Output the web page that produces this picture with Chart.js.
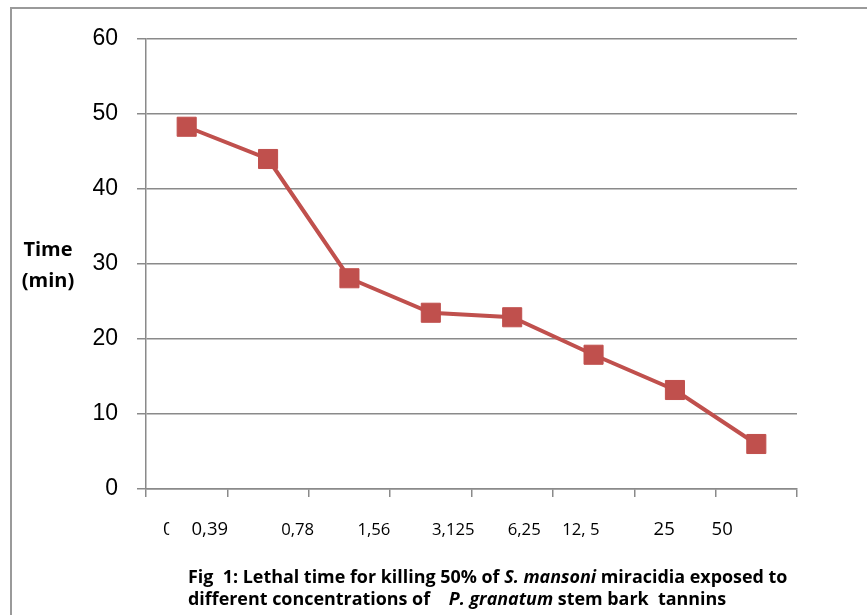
<!DOCTYPE html>
<html lang="en">
<head>
  <meta charset="utf-8">
  <title>Lethal time chart</title>
  <style>
    body { margin: 0; background: #fff; }
    #wrap { width: 867px; height: 615px; }
  </style>
</head>
<body>
  <div id="wrap"><canvas id="chart" width="867" height="615"></canvas></div>

  <script src="https://cdn.jsdelivr.net/npm/chart.js"></script>
  <script>
    // data
    const concentrations = ['0,39', '0,78', '1,56', '3,125', '6,25', '12, 5', '25', '50'];
    const lethalTime = [48.3, 44.0, 28.1, 23.5, 22.9, 17.9, 13.2, 6.0];
    const yTicks = [0, 10, 20, 30, 40, 50, 60];

    // the printed x labels sit in a loose text box under the axis, not under the points
    const xLabelText = ['0', '0,39', '0,78', '1,56', '3,125', '6,25', '12, 5', '25', '50'];
    const xLabelPos = [0.031, 0.098, 0.233, 0.350, 0.472, 0.581, 0.668, 0.796, 0.885];
    const xLabelSize = [18.5, 18.5, 16.7, 16.7, 16.7, 16.7, 16.7, 18.5, 18.5];

    const red = '#C0504D';
    const gridGrey = '#8a8a8a';
    const sans = '"Open Sans", "Noto Sans", sans-serif';

    const decor = {
      id: 'decor',
      afterDraw(chart) {
        const ctx = chart.ctx;
        const area = chart.chartArea;
        ctx.save();

        // outer frame (top and left edges only are in view)
        ctx.strokeStyle = '#9a9a9a';
        ctx.lineWidth = 2;
        ctx.beginPath();
        ctx.moveTo(11, 615);
        ctx.lineTo(11, 8);
        ctx.lineTo(867, 8);
        ctx.stroke();

        // y title
        ctx.fillStyle = '#000';
        ctx.font = 'bold 20px ' + sans;
        ctx.textAlign = 'center';
        ctx.textBaseline = 'middle';
        ctx.fillText('Time', 48, 250);
        ctx.fillText('(min)', 48, 281);

        // x labels
        const w = area.right - area.left;
        xLabelText.forEach((t, i) => {
          ctx.font = xLabelSize[i] + 'px ' + sans;
          const x = area.left + xLabelPos[i] * w;
          if (i === 0) {
            // first label is half hidden in the original
            ctx.save();
            ctx.beginPath();
            ctx.rect(x - 8, 510, 11, 35);
            ctx.clip();
            ctx.fillText(t, x + 2, 530);
            ctx.restore();
          } else {
            ctx.fillText(t, x, 530);
          }
        });

        // x title, mostly covered by the caption box
        ctx.font = 'bold 16px ' + sans;
        ctx.fillText('Concentrations (ppm)', 530, 565);
        ctx.fillStyle = '#fff';
        ctx.fillRect(13, 557, 854, 58);

        // caption
        ctx.fillStyle = '#000';
        ctx.textAlign = 'left';
        ctx.textBaseline = 'alphabetic';
        const line1 = [
          ['Fig  1: Lethal time for killing 50% of ', false],
          ['S. mansoni', true],
          [' miracidia exposed to', false]
        ];
        const line2 = [
          ['different concentrations of    ', false],
          ['P. granatum', true],
          [' stem bark  tannins', false]
        ];
        const fontFor = (it, size) => (it ? 'italic ' : '') + 'bold ' + size + 'px ' + sans;
        let total = 0;
        line1.forEach(([s, it]) => { ctx.font = fontFor(it, 16); total += ctx.measureText(s).width; });
        const size = 16 * 600 / total;
        const drawLine = (parts, y) => {
          let x = 188;
          parts.forEach(([s, it]) => {
            ctx.font = fontFor(it, size);
            ctx.fillText(s, x, y);
            x += ctx.measureText(s).width;
          });
        };
        drawLine(line1, 583);
        drawLine(line2, 605);

        ctx.restore();
      }
    };

    new Chart(document.getElementById('chart'), {
      type: 'line',
      data: {
        labels: concentrations,
        datasets: [{
          data: lethalTime,
          borderColor: red,
          backgroundColor: red,
          borderWidth: 4,
          pointStyle: 'rect',
          pointRadius: 13.5,
          pointBorderWidth: 1,
          pointBorderColor: red,
          pointBackgroundColor: red,
          tension: 0
        }]
      },
      options: {
        responsive: false,
        animation: false,
        layout: { padding: { left: 0, top: 39, right: 70, bottom: 0 } },
        plugins: {
          legend: { display: false },
          tooltip: { enabled: false }
        },
        scales: {
          x: {
            offset: true,
            afterFit(scale) { scale.height = 126; },
            grid: {
              offset: true,
              drawOnChartArea: false,
              drawTicks: true,
              tickLength: 8,
              color: gridGrey,
              lineWidth: 1.5
            },
            border: { color: gridGrey, width: 1.5 },
            ticks: { display: false }
          },
          y: {
            min: 0,
            max: 60,
            afterFit(scale) { scale.width = 146; },
            afterBuildTicks(scale) { scale.ticks = yTicks.map(v => ({ value: v })); },
            grid: {
              color: gridGrey,
              lineWidth: 1.5,
              tickLength: 9
            },
            border: { color: gridGrey, width: 1.5 },
            ticks: {
              color: '#000',
              padding: 19,
              font: { family: '"Liberation Sans", Arial', size: 23 }
            }
          }
        }
      },
      plugins: [decor]
    });
  </script>
</body>
</html>
